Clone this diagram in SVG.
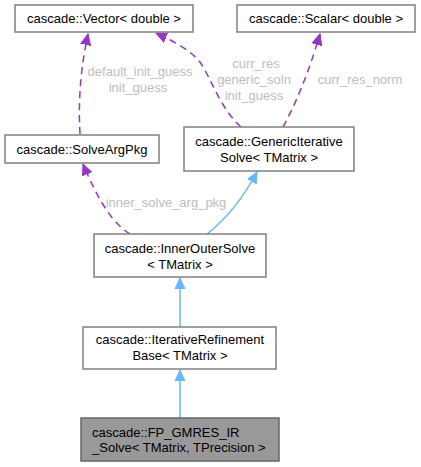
<svg xmlns="http://www.w3.org/2000/svg" width="421" height="467" viewBox="0 0 421 467">
<style>
.box{fill:#ffffff;stroke:#808080;stroke-width:1.5}
.cur{fill:#999999;stroke:#666666;stroke-width:1.5}
text{font-family:"Liberation Sans",Arial,sans-serif;font-size:13px;fill:#000000}
.c{text-anchor:middle}
.lbl{fill:#bdbdbd;text-anchor:middle;font-size:13px}
.use{fill:none;stroke:#9a32cd;stroke-width:1.5;stroke-dasharray:7,5}
.inh{fill:none;stroke:#63b8ff;stroke-width:1.5}
</style>
<defs>
<marker id="ap" markerWidth="12" markerHeight="12" refX="11" refY="5" orient="auto" markerUnits="userSpaceOnUse" viewBox="0 0 12 10">
<path d="M0,0 L11,5 L0,10 Z" fill="#9a32cd" stroke="#9a32cd"/>
</marker>
<marker id="ab" markerWidth="12" markerHeight="12" refX="11" refY="5" orient="auto" markerUnits="userSpaceOnUse" viewBox="0 0 12 10">
<path d="M0,0 L11,5 L0,10 Z" fill="#63b8ff" stroke="#63b8ff"/>
</marker>
</defs>
<rect width="421" height="467" fill="#ffffff"/>
<g id="connectors">
<path class="use" d="M80,134 C79,115 78,80 88,34" marker-end="url(#ap)"/>
<path class="use" d="M241,127 C220,108 212,80 200,62 C190,50 175,42 156,33" marker-end="url(#ap)"/>
<path class="use" d="M283,127 C295,105 308,75 320,34" marker-end="url(#ap)"/>
<path class="use" d="M130,234 C115,225 100,205 83,164" marker-end="url(#ap)"/>
<path class="inh" d="M207,234 C225,220 242,200 257,172" marker-end="url(#ab)"/>
<path class="inh" d="M180,327 L180,278" marker-end="url(#ab)"/>
<path class="inh" d="M180,418 L180,370" marker-end="url(#ab)"/>
<text class="lbl" x="140" y="76">default_init_guess</text>
<text class="lbl" x="138" y="92">init_guess</text>
<text class="lbl" x="256" y="68">curr_res</text>
<text class="lbl" x="254" y="84">generic_soln</text>
<text class="lbl" x="254" y="100">init_guess</text>
<text class="lbl" x="360" y="84">curr_res_norm</text>
<text class="lbl" x="166" y="207">inner_solve_arg_pkg</text>
</g>
<g id="node_vector">
<rect class="box" x="15" y="5" width="178" height="27"/>
<text class="c" x="104" y="23">cascade::Vector&lt; double &gt;</text>
</g>
<g id="node_scalar">
<rect class="box" x="237" y="5" width="178" height="27"/>
<text class="c" x="326" y="23">cascade::Scalar&lt; double &gt;</text>
</g>
<g id="node_solveargpkg">
<rect class="box" x="5" y="135" width="154" height="28"/>
<text class="c" x="82" y="154">cascade::SolveArgPkg</text>
</g>
<g id="node_generic">
<rect class="box" x="184" y="127" width="170" height="44"/>
<text class="c" x="269" y="146">cascade::GenericIterative</text>
<text class="c" x="269" y="162">Solve&lt; TMatrix &gt;</text>
</g>
<g id="node_innerouter">
<rect class="box" x="94" y="234" width="172" height="43"/>
<text class="c" x="180" y="253">cascade::InnerOuterSolve</text>
<text class="c" x="180" y="269">&lt; TMatrix &gt;</text>
</g>
<g id="node_iterref">
<rect class="box" x="83" y="327" width="193" height="42"/>
<text class="c" x="180" y="344">cascade::IterativeRefinement</text>
<text class="c" x="180" y="360">Base&lt; TMatrix &gt;</text>
</g>
<g id="node_fpgmres">
<rect class="cur" x="81" y="418" width="198" height="43"/>
<text x="92" y="437">cascade::FP_GMRES_IR</text>
<text x="92" y="452">_Solve&lt; TMatrix, TPrecision &gt;</text>
</g>
</svg>
